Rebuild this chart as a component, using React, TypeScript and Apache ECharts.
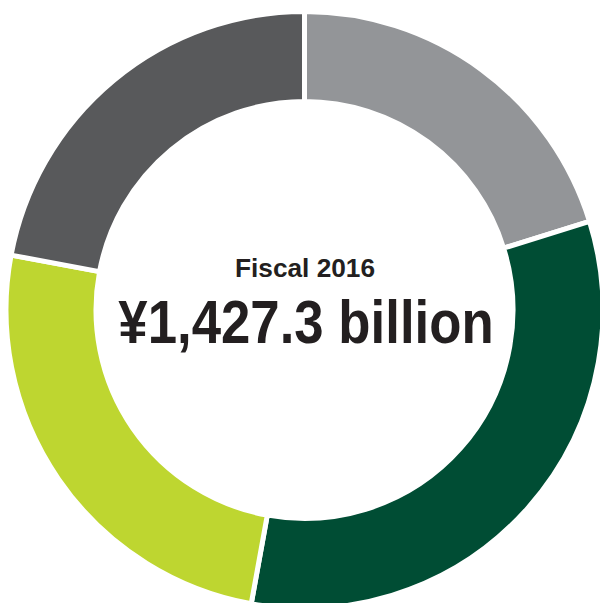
import React, { useEffect, useRef } from "react";
import * as echarts from "echarts";

const categories = ["Segment A", "Segment B", "Segment C", "Segment D"];
const values = [288.4, 466.0, 358.1, 314.8]; // ¥ billion, estimated from arc angles
const colors = ["#939598", "#004d34", "#bed630", "#58595b"];
const titleText = "Fiscal 2016";
const totalText = "¥1,427.3 billion";

export default function App() {
  const ref = useRef<HTMLDivElement>(null);
  useEffect(() => {
    if (!ref.current) return;
    const chart = echarts.init(ref.current, null, { renderer: "svg" });
    chart.setOption({
      animation: false,
      backgroundColor: "#ffffff",
      series: [
        {
          type: "pie",
          center: [304.5, 310],
          radius: [208.5, 298.5],
          startAngle: 90,
          clockwise: true,
          silent: true,
          label: { show: false },
          labelLine: { show: false },
          itemStyle: { borderColor: "#ffffff", borderWidth: 5 },
          data: categories.map((c, i) => ({
            name: c,
            value: values[i],
            itemStyle: { color: colors[i] },
          })),
        },
      ],
      graphic: [
        {
          type: "text",
          x: 305,
          y: 268,
          scaleX: 1.05,
          style: {
            text: titleText,
            font: "bold 25px 'Liberation Sans', Arial, sans-serif",
            fill: "#231f20",
            textAlign: "center",
            textVerticalAlign: "middle",
          },
        },
        {
          type: "text",
          x: 306,
          y: 322,
          scaleX: 0.865,
          style: {
            text: totalText,
            font: "bold 61px 'Liberation Sans', Arial, sans-serif",
            fill: "#231f20",
            textAlign: "center",
            textVerticalAlign: "middle",
          },
        },
      ],
    });
    return () => chart.dispose();
  }, []);
  return (
    <div
      ref={ref}
      style={{ position: "fixed", left: 0, top: 0, width: 600, height: 603 }}
    />
  );
}
